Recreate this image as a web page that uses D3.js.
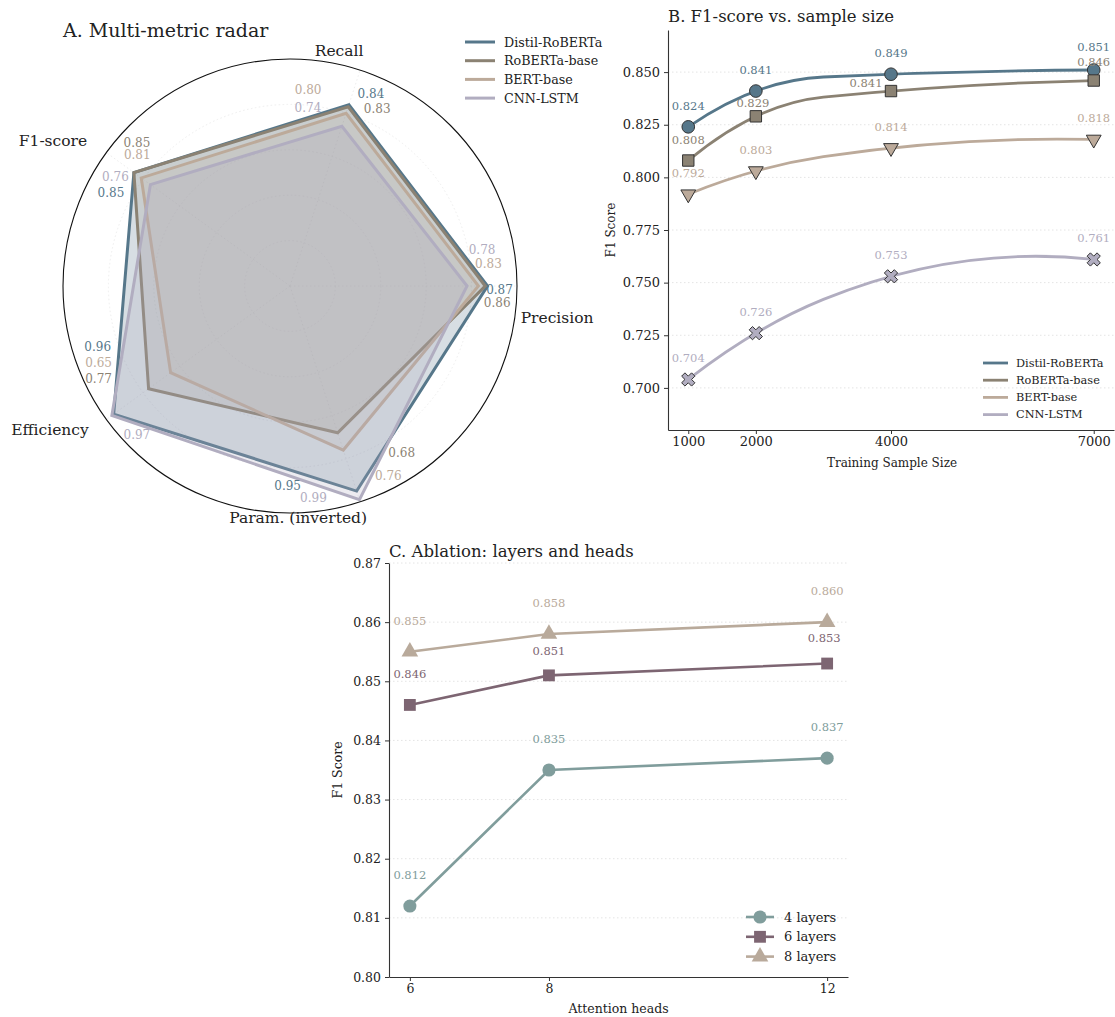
<!DOCTYPE html>
<html>
<head>
<meta charset="utf-8">
<script src="https://cdn.jsdelivr.net/npm/d3@7"></script>
<style>
  body { margin: 0; background: #fff; }
  svg text { font-family: "DejaVu Serif", serif; fill: #222; }
</style>
</head>
<body>
<svg id="chart" width="1115" height="1017"></svg>
<script>
// ---- data ----
var models = ['Distil-RoBERTa', 'RoBERTa-base', 'BERT-base', 'CNN-LSTM'];
var metrics = ['Precision', 'Recall', 'F1-score', 'Efficiency', 'Param. (inverted)'];

var radarDistil = [0.87, 0.84, 0.85, 0.96, 0.95];
var radarRoberta = [0.86, 0.83, 0.85, 0.77, 0.68];
var radarBert = [0.83, 0.80, 0.81, 0.65, 0.76];
var radarCnn = [0.78, 0.74, 0.76, 0.97, 0.99];

var sampleSizes = [1000, 2000, 4000, 7000];
var f1Distil = [0.824, 0.841, 0.849, 0.851];
var f1Roberta = [0.808, 0.829, 0.841, 0.846];
var f1Bert = [0.792, 0.803, 0.814, 0.818];
var f1Cnn = [0.704, 0.726, 0.753, 0.761];
var sampleTicksY = [0.700, 0.725, 0.750, 0.775, 0.800, 0.825, 0.850];

var heads = [6, 8, 12];
var layerNames = ['4 layers', '6 layers', '8 layers'];
var f1Layers4 = [0.812, 0.835, 0.837];
var f1Layers6 = [0.846, 0.851, 0.853];
var f1Layers8 = [0.855, 0.858, 0.860];
var ablationTicksY = [0.80, 0.81, 0.82, 0.83, 0.84, 0.85, 0.86, 0.87];

// ---- styles ----
var modelColors = ['#56778a', '#8b8273', '#bcaa9a', '#b1adc0'];
var modelFillOpacity = [0.24, 0.17, 0.17, 0.24];
var layerColors = ['#809d9c', '#7d6572', '#b9aa9b'];
var gridColor = '#e4e4e4';
var spineColor = '#333';

var svg = d3.select('#chart');

// quadratic interpolating spline (knots like scipy make_interp_spline k=2)
function solve(A, b) {
  var n = b.length, M = A.map(function (r, i) { return r.concat([b[i]]); });
  for (var c = 0; c < n; c++) {
    var p = c;
    for (var r = c + 1; r < n; r++) if (Math.abs(M[r][c]) > Math.abs(M[p][c])) p = r;
    var t = M[c]; M[c] = M[p]; M[p] = t;
    for (r = c + 1; r < n; r++) {
      var f = M[r][c] / M[c][c];
      for (var k = c; k <= n; k++) M[r][k] -= f * M[c][k];
    }
  }
  var x = new Array(n);
  for (var i = n - 1; i >= 0; i--) {
    var s = M[i][n];
    for (var j = i + 1; j < n; j++) s -= M[i][j] * x[j];
    x[i] = s / M[i][i];
  }
  return x;
}

function curveQuadSpline(context) {
  var xs, ys;
  return {
    areaStart: function () {}, areaEnd: function () {},
    lineStart: function () { xs = []; ys = []; },
    point: function (x, y) { xs.push(+x); ys.push(+y); },
    lineEnd: function () {
      var n = xs.length, x0 = xs[0];
      if (n < 4) {
        xs.forEach(function (x, i) { i ? context.lineTo(x, ys[i]) : context.moveTo(x, ys[i]); });
        return;
      }
      var mids = [];
      for (var i = 0; i < n - 1; i++) mids.push((xs[i] + xs[i + 1]) / 2);
      var knots = mids.slice(1, -1);
      function basis(x) {
        var u = x - x0, row = [1, u, u * u];
        knots.forEach(function (k) { var d = x - k; row.push(d > 0 ? d * d : 0); });
        return row;
      }
      var coef = solve(xs.map(basis), ys.slice());
      function f(x) { return basis(x).reduce(function (s, v, j) { return s + v * coef[j]; }, 0); }
      function df(x) {
        var s = coef[1] + 2 * coef[2] * (x - x0);
        knots.forEach(function (k, j) { var d = x - k; if (d > 0) s += 2 * coef[3 + j] * d; });
        return s;
      }
      var brk = [xs[0]].concat(knots, [xs[n - 1]]);
      context.moveTo(brk[0], f(brk[0]));
      for (var j = 0; j < brk.length - 1; j++) {
        var a = brk[j], b = brk[j + 1];
        context.quadraticCurveTo((a + b) / 2, f(a) + df(a) * (b - a) / 2, b, f(b));
      }
    }
  };
}

// filled "X" marker
var symbolFilledX = {
  draw: function (context, size) {
    var s = Math.sqrt(size / 5), h = s / 2, w = s * 1.5;
    var pts = [[-h, -w], [h, -w], [h, -h], [w, -h], [w, h], [h, h], [h, w], [-h, w], [-h, h], [-w, h], [-w, -h], [-h, -h]];
    var c = Math.SQRT1_2;
    pts.forEach(function (p, i) {
      var x = (p[0] - p[1]) * c, y = (p[0] + p[1]) * c;
      i ? context.lineTo(x, y) : context.moveTo(x, y);
    });
    context.closePath();
  }
};

function hGrid(g, ticks, y, x0, x1) {
  g.selectAll('line.grid').data(ticks).enter().append('line')
    .attr('class', 'grid')
    .attr('x1', x0).attr('x2', x1)
    .attr('y1', y).attr('y2', y)
    .attr('stroke', gridColor).attr('stroke-width', 1)
    .attr('stroke-dasharray', '1.5,2.5');
}

function styleAxis(sel, fontSize) {
  sel.select('.domain').attr('stroke', spineColor).attr('stroke-width', 1.1);
  sel.selectAll('.tick line').attr('stroke', spineColor);
  sel.selectAll('.tick text').attr('font-size', fontSize).attr('fill', '#222')
    .style('font-family', '"DejaVu Serif", serif');
}

// =============== A. radar ===============
(function () {
  var series = [radarDistil, radarRoberta, radarBert, radarCnn];
  var cx = 290, cy = 286, R = 227;
  var r = d3.scaleLinear().domain([0, 1]).range([0, R]);
  var angle = d3.scaleLinear().domain([0, metrics.length]).range([Math.PI / 2, Math.PI / 2 - 2 * Math.PI]);
  var g = svg.append('g').attr('transform', 'translate(' + cx + ',' + cy + ')');

  svg.append('text').attr('x', 63).attr('y', 37).attr('font-size', 19)
    .text('A. Multi-metric radar');

  var radarGrid = '#eeeeee';
  [0.2, 0.4, 0.6, 0.8].forEach(function (v) {
    g.append('circle').attr('r', r(v)).attr('fill', 'none')
      .attr('stroke', radarGrid).attr('stroke-dasharray', '1.5,2.5');
  });
  metrics.forEach(function (m, i) {
    var a = angle(i);
    g.append('line').attr('x1', 0).attr('y1', 0)
      .attr('x2', r(1) * Math.sin(a)).attr('y2', -r(1) * Math.cos(a))
      .attr('stroke', radarGrid).attr('stroke-dasharray', '1.5,2.5');
  });

  var radial = d3.lineRadial()
    .angle(function (d, i) { return angle(i); })
    .radius(function (d) { return r(d); })
    .curve(d3.curveLinearClosed);

  series.forEach(function (vals, s) {
    g.append('path').attr('d', radial(vals))
      .attr('fill', modelColors[s]).attr('fill-opacity', modelFillOpacity[s])
      .attr('stroke', modelColors[s]).attr('stroke-width', 3)
      .attr('stroke-linejoin', 'miter');
  });

  g.append('circle').attr('r', R).attr('fill', 'none').attr('stroke', '#111').attr('stroke-width', 1.1);

  // axis label anchors: [angle deg clockwise from top, radius px]
  var axisLabelAt = [[96.8, 269], [11.8, 240], [301.5, 278], [239, 280], [178, 232]];
  metrics.forEach(function (m, i) {
    var a = axisLabelAt[i][0] * Math.PI / 180, rr = axisLabelAt[i][1];
    g.append('text').attr('x', rr * Math.sin(a)).attr('y', -rr * Math.cos(a))
      .attr('text-anchor', 'middle').attr('dominant-baseline', 'central')
      .attr('font-size', 15.5).text(m);
  });

  // value label nudges (px from vertex), per model, per metric
  var nudges = [
    [[12, 4], [22, -11], [-23, 20], [-16, -67], [-69, -5]],
    [[12, 17], [29, 2], [3, -30], [-50, -10], [64, 20]],
    [[10, -22], [-38, -23], [-4, -23], [-72, -10], [45, 26]],
    [[15, -36], [-34, -18], [-35, -8], [25, 20], [-46, -2]]
  ];
  series.forEach(function (vals, s) {
    vals.forEach(function (v, i) {
      var a = angle(i);
      g.append('text')
        .attr('x', r(v) * Math.sin(a) + nudges[s][i][0])
        .attr('y', -r(v) * Math.cos(a) + nudges[s][i][1])
        .attr('text-anchor', 'middle').attr('dominant-baseline', 'central')
        .attr('font-size', 12).style('fill', modelColors[s])
        .text(v.toFixed(2));
    });
  });

  var lg = svg.append('g').attr('transform', 'translate(465,42)');
  models.forEach(function (m, i) {
    var row = lg.append('g').attr('transform', 'translate(0,' + i * 18.7 + ')');
    row.append('line').attr('x1', 0).attr('x2', 30).attr('stroke', modelColors[i]).attr('stroke-width', 3);
    row.append('text').attr('x', 39).attr('dominant-baseline', 'central').attr('font-size', 12.7).text(m);
  });
})();

// =============== B. F1 vs sample size ===============
(function () {
  var series = [f1Distil, f1Roberta, f1Bert, f1Cnn];
  var symbols = [d3.symbolCircle, d3.symbolSquare, d3.symbolTriangle, symbolFilledX];
  var symSizes = [125, 130, 95, 110];
  var symRotate = [0, 0, 180, 0];
  var left = 668, right = 1114, top = 30, bottom = 430;
  var x = d3.scaleLinear().domain([700, 7300]).range([left, right]);
  var y = d3.scaleLinear().domain([0.68, 0.87]).range([bottom, top]);
  var g = svg.append('g');

  svg.append('text').attr('x', left).attr('y', 22).attr('font-size', 16.5)
    .text('B. F1-score vs. sample size');

  hGrid(g, sampleTicksY, function (d) { return y(d); }, left, right);

  var ax = g.append('g').attr('transform', 'translate(0,' + bottom + ')')
    .call(d3.axisBottom(x).tickValues(sampleSizes).tickFormat(d3.format('d')).tickSize(4).tickSizeOuter(0).tickPadding(3));
  styleAxis(ax, 13);
  var ay = g.append('g').attr('transform', 'translate(' + left + ',0)')
    .call(d3.axisLeft(y).tickValues(sampleTicksY).tickFormat(d3.format('.3f')).tickSize(4).tickSizeOuter(0).tickPadding(4));
  styleAxis(ay, 13);

  svg.append('text').attr('x', (left + right) / 2 + 1).attr('y', 467)
    .attr('text-anchor', 'middle').attr('font-size', 12).text('Training Sample Size');
  svg.append('text').attr('transform', 'translate(615,230) rotate(-90)')
    .attr('text-anchor', 'middle').attr('font-size', 12).text('F1 Score');

  var line = d3.line()
    .x(function (d, i) { return x(sampleSizes[i]); })
    .y(function (d) { return y(d); })
    .curve(curveQuadSpline);

  series.forEach(function (vals, s) {
    g.append('path').attr('d', line(vals)).attr('fill', 'none')
      .attr('stroke', modelColors[s]).attr('stroke-width', 2.8);
  });

  var labelNudge = { '0,3': [0, -2], '1,1': [-3, 8], '1,2': [-25, 13], '1,3': [0, 2] };
  series.forEach(function (vals, s) {
    vals.forEach(function (v, i) {
      g.append('path')
        .attr('d', d3.symbol().type(symbols[s]).size(symSizes[s])())
        .attr('transform', 'translate(' + x(sampleSizes[i]) + ',' + y(v) + ') rotate(' + symRotate[s] + ')')
        .attr('fill', modelColors[s]).attr('stroke', '#333').attr('stroke-width', 1);
      var nd = labelNudge[s + ',' + i] || [0, 0];
      g.append('text')
        .attr('x', x(sampleSizes[i]) + nd[0]).attr('y', y(v) - 21 + nd[1])
        .attr('text-anchor', 'middle').attr('dominant-baseline', 'central')
        .attr('font-size', 11.5).style('fill', modelColors[s])
        .text(v.toFixed(3));
    });
  });

  var lg = svg.append('g').attr('transform', 'translate(983,363)');
  models.forEach(function (m, i) {
    var row = lg.append('g').attr('transform', 'translate(0,' + i * 17.2 + ')');
    row.append('line').attr('x1', 0).attr('x2', 25).attr('stroke', modelColors[i]).attr('stroke-width', 2.8);
    row.append('text').attr('x', 33).attr('dominant-baseline', 'central').attr('font-size', 11.3).text(m);
  });
})();

// =============== C. ablation ===============
(function () {
  var series = [f1Layers4, f1Layers6, f1Layers8];
  var symbols = [d3.symbolCircle, d3.symbolSquare, d3.symbolTriangle];
  var symSizes = [135, 140, 120];
  var left = 389, right = 848, top = 563, bottom = 977;
  var x = d3.scaleLinear().domain([5.7, 12.3]).range([left, right]);
  var y = d3.scaleLinear().domain([0.80, 0.87]).range([bottom, top]);
  var g = svg.append('g');

  svg.append('text').attr('x', left).attr('y', 557).attr('font-size', 16.5)
    .text('C. Ablation: layers and heads');

  hGrid(g, ablationTicksY.slice(1), function (d) { return y(d); }, left, right);

  var ax = g.append('g').attr('transform', 'translate(0,' + bottom + ')')
    .call(d3.axisBottom(x).tickValues(heads).tickFormat(d3.format('d')).tickSize(4).tickSizeOuter(0).tickPadding(3));
  styleAxis(ax, 12.5);
  var ay = g.append('g').attr('transform', 'translate(' + left + ',0)')
    .call(d3.axisLeft(y).tickValues(ablationTicksY).tickFormat(d3.format('.2f')).tickSize(4).tickSizeOuter(0).tickPadding(4));
  styleAxis(ay, 12.5);

  svg.append('text').attr('x', (left + right) / 2).attr('y', 1013)
    .attr('text-anchor', 'middle').attr('font-size', 12.5).text('Attention heads');
  svg.append('text').attr('transform', 'translate(342,770) rotate(-90)')
    .attr('text-anchor', 'middle').attr('font-size', 12.5).text('F1 Score');

  var line = d3.line()
    .x(function (d, i) { return x(heads[i]); })
    .y(function (d) { return y(d); });

  var labelNudge = { '1,1': [0, 7], '1,2': [-3, 5] };
  series.forEach(function (vals, s) {
    g.append('path').attr('d', line(vals)).attr('fill', 'none')
      .attr('stroke', layerColors[s]).attr('stroke-width', 2.6);
    vals.forEach(function (v, i) {
      g.append('path')
        .attr('d', d3.symbol().type(symbols[s]).size(symSizes[s])())
        .attr('transform', 'translate(' + x(heads[i]) + ',' + y(v) + ')')
        .attr('fill', layerColors[s]);
      var nd = labelNudge[s + ',' + i] || [0, 0];
      g.append('text')
        .attr('x', x(heads[i]) + nd[0]).attr('y', y(v) - 31 + nd[1])
        .attr('text-anchor', 'middle').attr('dominant-baseline', 'central')
        .attr('font-size', 11.5).style('fill', layerColors[s])
        .text(v.toFixed(3));
    });
  });

  var lg = svg.append('g').attr('transform', 'translate(746,917)');
  layerNames.forEach(function (m, i) {
    var row = lg.append('g').attr('transform', 'translate(0,' + i * 19.8 + ')');
    row.append('line').attr('x1', 0).attr('x2', 28).attr('stroke', layerColors[i]).attr('stroke-width', 2.6);
    row.append('path').attr('d', d3.symbol().type(symbols[i]).size(symSizes[i])())
      .attr('transform', 'translate(14,0)').attr('fill', layerColors[i]);
    row.append('text').attr('x', 38).attr('dominant-baseline', 'central').attr('font-size', 13).text(m);
  });
})();
</script>
</body>
</html>
